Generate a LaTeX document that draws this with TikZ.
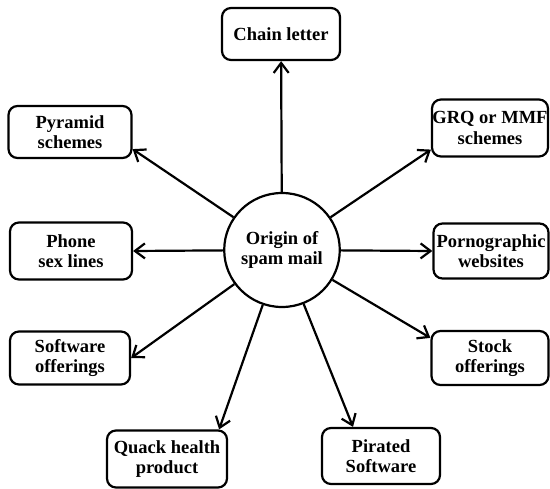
\documentclass[tikz,border=0pt]{standalone}
\usepackage{fontspec}
\setmainfont{Liberation Serif}
\usetikzlibrary{arrows.meta,shapes.geometric}
\begin{document}
\begin{tikzpicture}[x=1pt,y=-1pt,
  every node/.style={font=\bfseries\fontsize{18.5}{20.5}\selectfont, align=center, inner sep=0pt},
  box/.style={draw, line width=2.2pt, rounded corners=9pt},
  hub/.style={draw, ellipse, line width=2.2pt, minimum width=109pt, minimum height=114pt},
  link/.style={line width=2.2pt, -{Straight Barb[length=10pt,width=15pt,line width=2.2pt]}}
]
\useasboundingbox (0,0) rectangle (550,489);
\node[hub] (o) at (282,250) {Origin of\\spam mail};
\node[box, minimum width=118pt, minimum height=52pt] (chain) at (281,34) {Chain letter};
\node[box, minimum width=123pt, minimum height=52pt] (pyr) at (70,132) {Pyramid\\schemes};
\node[box, minimum width=116pt, minimum height=57pt] (grq) at (490,128) {GRQ or MMF\\schemes};
\node[box, minimum width=122pt, minimum height=57pt] (phone) at (71,251) {Phone\\sex lines};
\node[box, minimum width=115pt, minimum height=55pt] (porn) at (491,251) {Pornographic\\websites};
\node[box, minimum width=120pt, minimum height=53pt] (soft) at (70,358) {Software\\offerings};
\node[box, minimum width=117pt, minimum height=54pt] (stock) at (490,358) {Stock\\offerings};
\node[box, minimum width=120pt, minimum height=57pt] (quack) at (167,459) {Quack health\\product};
\node[box, minimum width=118pt, minimum height=56pt] (pir) at (381,456) {Pirated\\Software};
\draw[link] (o) -- (chain);
\draw[link] (o) -- ([yshift=10pt]pyr.south east);
\draw[link] (o) -- ([yshift=8pt]grq.south west);
\draw[link] (o) -- (phone.east);
\draw[link] (o) -- (porn.west);
\draw[link] (o) -- (soft.east);
\draw[link] (o) -- ([yshift=-8pt]stock.north west);
\draw[link] (o) -- ([xshift=-9pt]quack.north east);
\draw[link] (o) -- ([xshift=-28pt]pir.north);
\end{tikzpicture}
\end{document}
